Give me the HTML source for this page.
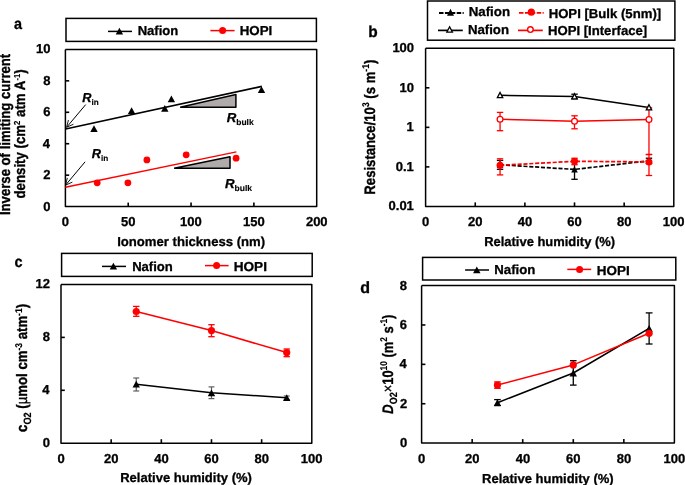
<!DOCTYPE html>
<html><head><meta charset="utf-8"><style>
html,body{margin:0;padding:0;background:#fff;overflow:hidden;}
svg{display:block;will-change:transform;}
text{stroke:#000;stroke-width:0.3px;font-family:"Liberation Sans",sans-serif;white-space:pre;text-rendering:geometricPrecision;}
</style></head><body>
<svg width="685" height="485" viewBox="0 0 685 485">
<rect width="685" height="485" fill="#fff"/>
<g transform="translate(14.07,28.8) scale(0.9226,1)"><text x="0" y="0" style="font-size:15.6px;font-weight:bold;font-style:normal;stroke-width:0.3px" fill="#000">a</text></g>
<rect x="66" y="18.4" width="250.4" height="23" fill="none" stroke="#000" stroke-width="1.5"/>
<line x1="108" y1="31.4" x2="132" y2="31.4" stroke="#000" stroke-width="1.5" />
<polygon points="119.4,27.8 123.1,34.6 115.7,34.6" fill="#000"/>
<g transform="translate(137.65,34.8) scale(1.0050,1)"><text x="0" y="0" style="font-size:13px;font-weight:bold;font-style:normal;stroke-width:0.3px" fill="#000">Nafion</text></g>
<line x1="210.4" y1="30.6" x2="234.6" y2="30.6" stroke="#ff0000" stroke-width="1.5" />
<circle cx="222.6" cy="30.6" r="3.5" fill="#ff0000"/>
<g transform="translate(239.73,35.3) scale(1.0256,1)"><text x="0" y="0" style="font-size:13px;font-weight:bold;font-style:normal;stroke-width:0.3px" fill="#000">HOPI</text></g>
<polyline points="65.4,49.4 65.4,206.6 316.7,206.6 316.7,49.4 65.4,49.4" stroke="#000" stroke-width="1.5" fill="none" stroke-linejoin="round" />
<line x1="65.4" y1="175.16" x2="69.2" y2="175.16" stroke="#000" stroke-width="1.6" />
<line x1="65.4" y1="143.72" x2="69.2" y2="143.72" stroke="#000" stroke-width="1.6" />
<line x1="65.4" y1="112.28" x2="69.2" y2="112.28" stroke="#000" stroke-width="1.6" />
<line x1="65.4" y1="80.84" x2="69.2" y2="80.84" stroke="#000" stroke-width="1.6" />
<g transform="translate(43.3,210.5) scale(1.0000,1)"><text x="0" y="0" style="font-size:13px;font-weight:bold;font-style:normal;stroke-width:0.3px" fill="#000">0</text></g>
<g transform="translate(43.3,179.06) scale(1.0000,1)"><text x="0" y="0" style="font-size:13px;font-weight:bold;font-style:normal;stroke-width:0.3px" fill="#000">2</text></g>
<g transform="translate(42.85,147.62) scale(1.0000,1)"><text x="0" y="0" style="font-size:13px;font-weight:bold;font-style:normal;stroke-width:0.3px" fill="#000">4</text></g>
<g transform="translate(43.24,116.18) scale(1.0000,1)"><text x="0" y="0" style="font-size:13px;font-weight:bold;font-style:normal;stroke-width:0.3px" fill="#000">6</text></g>
<g transform="translate(43.17,84.74) scale(1.0000,1)"><text x="0" y="0" style="font-size:13px;font-weight:bold;font-style:normal;stroke-width:0.3px" fill="#000">8</text></g>
<g transform="translate(36.09,53.3) scale(1.0000,1)"><text x="0" y="0" style="font-size:13px;font-weight:bold;font-style:normal;stroke-width:0.3px" fill="#000">10</text></g>
<line x1="128.22" y1="206.6" x2="128.22" y2="202.6" stroke="#000" stroke-width="1.6" />
<line x1="191.05" y1="206.6" x2="191.05" y2="202.6" stroke="#000" stroke-width="1.6" />
<line x1="253.88" y1="206.6" x2="253.88" y2="202.6" stroke="#000" stroke-width="1.6" />
<g transform="translate(61.79,225.8) scale(1.0000,1)"><text x="0" y="0" style="font-size:13px;font-weight:bold;font-style:normal;stroke-width:0.3px" fill="#000">0</text></g>
<g transform="translate(121.07,225.8) scale(1.0000,1)"><text x="0" y="0" style="font-size:13px;font-weight:bold;font-style:normal;stroke-width:0.3px" fill="#000">50</text></g>
<g transform="translate(180.1,225.8) scale(1.0000,1)"><text x="0" y="0" style="font-size:13px;font-weight:bold;font-style:normal;stroke-width:0.3px" fill="#000">100</text></g>
<g transform="translate(242.92,225.8) scale(1.0000,1)"><text x="0" y="0" style="font-size:13px;font-weight:bold;font-style:normal;stroke-width:0.3px" fill="#000">150</text></g>
<g transform="translate(305.91,225.8) scale(1.0000,1)"><text x="0" y="0" style="font-size:13px;font-weight:bold;font-style:normal;stroke-width:0.3px" fill="#000">200</text></g>
<g transform="translate(117.15,245.6) scale(1.0086,1)"><text x="0" y="0" style="font-size:13px;font-weight:bold;font-style:normal;stroke-width:0.3px" fill="#000">Ionomer thickness (nm)</text></g>
<g transform="translate(9.8,214.2) rotate(-90) scale(1.0505,1.2) translate(-0.81,0)"><text x="0" y="0" style="font-size:12.5px;font-weight:bold;font-style:normal;stroke-width:0.3px" fill="#000">Inverse of limiting current</text></g>
<g transform="translate(24.6,198) rotate(-90) scale(1.0601,1.2) translate(-0.5,0)"><text x="0" y="0" style="font-size:12.5px;font-weight:bold;font-style:normal;stroke-width:0.3px" fill="#000">density (cm</text><text x="69.47" y="-3.8" style="font-size:7.25px;font-weight:bold;font-style:normal;stroke-width:0.1px" fill="#000">2</text><text x="73.5" y="0" style="font-size:12.5px;font-weight:bold;font-style:normal;stroke-width:0.3px" fill="#000"> atm A</text><text x="111.24" y="-3.8" style="font-size:7.25px;font-weight:bold;font-style:normal;stroke-width:0.1px" fill="#000">-1</text><text x="117.68" y="0" style="font-size:12.5px;font-weight:bold;font-style:normal;stroke-width:0.3px" fill="#000">)</text></g>
<line x1="65.6" y1="129" x2="261.8" y2="86.4" stroke="#000" stroke-width="1.6" />
<polygon points="94,125.3 97.7,132.1 90.3,132.1" fill="#000"/>
<polygon points="131.6,107.3 135.3,114.1 127.9,114.1" fill="#000"/>
<polygon points="164.8,105 168.5,111.8 161.1,111.8" fill="#000"/>
<polygon points="171.4,95.4 175.1,102.2 167.7,102.2" fill="#000"/>
<polygon points="261.5,86.3 265.2,93.1 257.8,93.1" fill="#000"/>
<polyline points="180.1,107.3 235.9,107.3 235.9,94.6 180.1,107.3" stroke="#000" stroke-width="1.5" fill="#b0abaa" stroke-linejoin="round" />
<line x1="65.4" y1="187.2" x2="236.4" y2="151.9" stroke="#ff0000" stroke-width="1.45" />
<circle cx="97.2" cy="182.8" r="3.4" fill="#ff0000"/>
<circle cx="127.9" cy="182.8" r="3.4" fill="#ff0000"/>
<circle cx="146.9" cy="159.9" r="3.4" fill="#ff0000"/>
<circle cx="186.2" cy="154.8" r="3.4" fill="#ff0000"/>
<circle cx="236.1" cy="158.2" r="3.4" fill="#ff0000"/>
<polyline points="174.1,168.2 230,168.2 230,156.7 174.1,168.2" stroke="#000" stroke-width="1.5" fill="#b0abaa" stroke-linejoin="round" />
<line x1="85.7" y1="104.6" x2="66.6" y2="127.3" stroke="#000" stroke-width="1.0" />
<line x1="66.6" y1="127.3" x2="73.44" y2="124.23" stroke="#000" stroke-width="0.9" />
<line x1="66.6" y1="127.3" x2="68.45" y2="120.03" stroke="#000" stroke-width="0.9" />
<line x1="85.1" y1="161.8" x2="65.5" y2="185.2" stroke="#000" stroke-width="1.0" />
<line x1="65.5" y1="185.2" x2="72.34" y2="182.12" stroke="#000" stroke-width="0.9" />
<line x1="65.5" y1="185.2" x2="67.34" y2="177.93" stroke="#000" stroke-width="0.9" />
<g transform="translate(82.35,101.5) scale(0.9792,1)"><text x="0" y="0" style="font-size:13px;font-weight:bold;font-style:italic;stroke-width:0.3px" fill="#000">R</text><text x="9.39" y="3" style="font-size:8.32px;font-weight:bold;font-style:normal;stroke-width:0.13px" fill="#000">in</text></g>
<g transform="translate(91.84,158) scale(0.9854,1)"><text x="0" y="0" style="font-size:13px;font-weight:bold;font-style:italic;stroke-width:0.3px" fill="#000">R</text><text x="9.39" y="3" style="font-size:8.32px;font-weight:bold;font-style:normal;stroke-width:0.13px" fill="#000">in</text></g>
<g transform="translate(226.74,121.8) scale(1.0181,1)"><text x="0" y="0" style="font-size:13px;font-weight:bold;font-style:italic;stroke-width:0.3px" fill="#000">R</text><text x="9.39" y="3" style="font-size:8.32px;font-weight:bold;font-style:normal;stroke-width:0.13px" fill="#000">bulk</text></g>
<g transform="translate(224.93,187.7) scale(1.0219,1)"><text x="0" y="0" style="font-size:13px;font-weight:bold;font-style:italic;stroke-width:0.3px" fill="#000">R</text><text x="9.39" y="3" style="font-size:8.32px;font-weight:bold;font-style:normal;stroke-width:0.13px" fill="#000">bulk</text></g>
<g transform="translate(368.2,36.5) scale(0.9776,1)"><text x="0" y="0" style="font-size:15.8px;font-weight:bold;font-style:normal;stroke-width:0.3px" fill="#000">b</text></g>
<rect x="427.5" y="1" width="247.4" height="39.2" fill="none" stroke="#000" stroke-width="1.5"/>
<line x1="439" y1="13" x2="463.7" y2="13" stroke="#000" stroke-width="1.8" stroke-dasharray="4.5 1.4"/>
<polygon points="450.5,8.8 454,15.8 447,15.8" fill="#000"/>
<g transform="translate(468.64,16.4) scale(1.0231,1)"><text x="0" y="0" style="font-size:13px;font-weight:bold;font-style:normal;stroke-width:0.3px" fill="#000">Nafion</text></g>
<line x1="519" y1="12.85" x2="543.7" y2="12.85" stroke="#ff0000" stroke-width="1.8" stroke-dasharray="4.5 1.4"/>
<circle cx="531.3" cy="12.2" r="3.6" fill="#ff0000"/>
<g transform="translate(548.65,17.5) scale(1.0114,1)"><text x="0" y="0" style="font-size:13px;font-weight:bold;font-style:normal;stroke-width:0.3px" fill="#000">HOPI [Bulk (5nm)]</text></g>
<line x1="438" y1="30.4" x2="462.8" y2="30.4" stroke="#000" stroke-width="1.7" />
<polygon points="449.6,26.8 452.4,32.2 446.8,32.2" fill="#fff" stroke="#000" stroke-width="1.3" stroke-linejoin="miter"/>
<g transform="translate(467.94,33.8) scale(1.0153,1)"><text x="0" y="0" style="font-size:13px;font-weight:bold;font-style:normal;stroke-width:0.3px" fill="#000">Nafion</text></g>
<line x1="518" y1="30.4" x2="542.8" y2="30.4" stroke="#ff0000" stroke-width="1.7" />
<circle cx="530.4" cy="29.6" r="2.8" fill="#fff" stroke="#ff0000" stroke-width="1.4"/>
<g transform="translate(547.95,35) scale(1.0098,1)"><text x="0" y="0" style="font-size:13px;font-weight:bold;font-style:normal;stroke-width:0.3px" fill="#000">HOPI [Interface]</text></g>
<polyline points="425.6,48.3 425.6,206.4 673.8,206.4 673.8,48.3 425.6,48.3" stroke="#000" stroke-width="1.5" fill="none" stroke-linejoin="round" />
<g transform="translate(388.54,210.3) scale(1.0000,1)"><text x="0" y="0" style="font-size:13px;font-weight:bold;font-style:normal;stroke-width:0.3px" fill="#000">0.01</text></g>
<line x1="425.6" y1="166.88" x2="429.4" y2="166.88" stroke="#000" stroke-width="1.6" />
<g transform="translate(395.75,170.78) scale(1.0000,1)"><text x="0" y="0" style="font-size:13px;font-weight:bold;font-style:normal;stroke-width:0.3px" fill="#000">0.1</text></g>
<line x1="425.6" y1="127.35" x2="429.4" y2="127.35" stroke="#000" stroke-width="1.6" />
<g transform="translate(406.61,131.25) scale(1.0000,1)"><text x="0" y="0" style="font-size:13px;font-weight:bold;font-style:normal;stroke-width:0.3px" fill="#000">1</text></g>
<line x1="425.6" y1="87.82" x2="429.4" y2="87.82" stroke="#000" stroke-width="1.6" />
<g transform="translate(399.59,91.72) scale(1.0000,1)"><text x="0" y="0" style="font-size:13px;font-weight:bold;font-style:normal;stroke-width:0.3px" fill="#000">10</text></g>
<g transform="translate(392.38,52.2) scale(1.0000,1)"><text x="0" y="0" style="font-size:13px;font-weight:bold;font-style:normal;stroke-width:0.3px" fill="#000">100</text></g>
<line x1="475.24" y1="206.4" x2="475.24" y2="202.4" stroke="#000" stroke-width="1.6" />
<line x1="524.88" y1="206.4" x2="524.88" y2="202.4" stroke="#000" stroke-width="1.6" />
<line x1="574.52" y1="206.4" x2="574.52" y2="202.4" stroke="#000" stroke-width="1.6" />
<line x1="624.16" y1="206.4" x2="624.16" y2="202.4" stroke="#000" stroke-width="1.6" />
<g transform="translate(421.99,225.8) scale(1.0000,1)"><text x="0" y="0" style="font-size:13px;font-weight:bold;font-style:normal;stroke-width:0.3px" fill="#000">0</text></g>
<g transform="translate(468.06,225.8) scale(1.0000,1)"><text x="0" y="0" style="font-size:13px;font-weight:bold;font-style:normal;stroke-width:0.3px" fill="#000">20</text></g>
<g transform="translate(517.83,225.8) scale(1.0000,1)"><text x="0" y="0" style="font-size:13px;font-weight:bold;font-style:normal;stroke-width:0.3px" fill="#000">40</text></g>
<g transform="translate(567.34,225.8) scale(1.0000,1)"><text x="0" y="0" style="font-size:13px;font-weight:bold;font-style:normal;stroke-width:0.3px" fill="#000">60</text></g>
<g transform="translate(617.01,225.8) scale(1.0000,1)"><text x="0" y="0" style="font-size:13px;font-weight:bold;font-style:normal;stroke-width:0.3px" fill="#000">80</text></g>
<g transform="translate(662.85,225.8) scale(1.0000,1)"><text x="0" y="0" style="font-size:13px;font-weight:bold;font-style:normal;stroke-width:0.3px" fill="#000">100</text></g>
<g transform="translate(484.16,245.6) scale(0.9962,1)"><text x="0" y="0" style="font-size:13px;font-weight:bold;font-style:normal;stroke-width:0.3px" fill="#000">Relative humidity (%)</text></g>
<g transform="translate(374.6,193.8) rotate(-90) scale(1.0424,1.2) translate(-0.82,0)"><text x="0" y="0" style="font-size:12.6px;font-weight:bold;font-style:normal;stroke-width:0.3px" fill="#000">Resistance/10</text><text x="84.06" y="-4.5" style="font-size:8.19px;font-weight:bold;font-style:normal;stroke-width:0.13px" fill="#000">3</text><text x="88.61" y="0" style="font-size:12.6px;font-weight:bold;font-style:normal;stroke-width:0.3px" fill="#000"> (s m</text><text x="118.02" y="-4.5" style="font-size:8.19px;font-weight:bold;font-style:normal;stroke-width:0.13px" fill="#000">-1</text><text x="125.3" y="0" style="font-size:12.6px;font-weight:bold;font-style:normal;stroke-width:0.3px" fill="#000">)</text></g>
<polyline points="500.06,164.8 574.52,169.4 648.98,160.8" stroke="#000" stroke-width="1.7" fill="none" stroke-linejoin="round" stroke-dasharray="4.1 1.75"/>
<line x1="500.06" y1="160.4" x2="500.06" y2="169.3" stroke="#000" stroke-width="1.3" />
<line x1="496.86" y1="160.4" x2="503.26" y2="160.4" stroke="#000" stroke-width="1.3" />
<line x1="496.86" y1="169.3" x2="503.26" y2="169.3" stroke="#000" stroke-width="1.3" />
<line x1="574.52" y1="160.5" x2="574.52" y2="179.3" stroke="#000" stroke-width="1.3" />
<line x1="571.32" y1="160.5" x2="577.72" y2="160.5" stroke="#000" stroke-width="1.3" />
<line x1="571.32" y1="179.3" x2="577.72" y2="179.3" stroke="#000" stroke-width="1.3" />
<line x1="648.98" y1="158.2" x2="648.98" y2="163.5" stroke="#000" stroke-width="1.3" />
<line x1="645.78" y1="158.2" x2="652.18" y2="158.2" stroke="#000" stroke-width="1.3" />
<line x1="645.78" y1="163.5" x2="652.18" y2="163.5" stroke="#000" stroke-width="1.3" />
<polygon points="500.06,161.7 503.36,167.9 496.76,167.9" fill="#000"/>
<polygon points="574.52,166.3 577.82,172.5 571.22,172.5" fill="#000"/>
<polygon points="648.98,157.7 652.28,163.9 645.68,163.9" fill="#000"/>
<polyline points="500.06,165.3 574.52,161.3 648.98,161.9" stroke="#ff0000" stroke-width="1.7" fill="none" stroke-linejoin="round" stroke-dasharray="4.1 1.75"/>
<line x1="500.06" y1="158.8" x2="500.06" y2="174.9" stroke="#ff0000" stroke-width="1.3" />
<line x1="496.86" y1="158.8" x2="503.26" y2="158.8" stroke="#ff0000" stroke-width="1.3" />
<line x1="496.86" y1="174.9" x2="503.26" y2="174.9" stroke="#ff0000" stroke-width="1.3" />
<line x1="574.52" y1="158.3" x2="574.52" y2="164.7" stroke="#ff0000" stroke-width="1.3" />
<line x1="571.32" y1="158.3" x2="577.72" y2="158.3" stroke="#ff0000" stroke-width="1.3" />
<line x1="571.32" y1="164.7" x2="577.72" y2="164.7" stroke="#ff0000" stroke-width="1.3" />
<line x1="648.98" y1="154.5" x2="648.98" y2="175.5" stroke="#ff0000" stroke-width="1.3" />
<line x1="645.78" y1="154.5" x2="652.18" y2="154.5" stroke="#ff0000" stroke-width="1.3" />
<line x1="645.78" y1="175.5" x2="652.18" y2="175.5" stroke="#ff0000" stroke-width="1.3" />
<circle cx="500.06" cy="165.3" r="3.5" fill="#ff0000"/>
<circle cx="574.52" cy="161.3" r="3.5" fill="#ff0000"/>
<circle cx="648.98" cy="161.9" r="3.5" fill="#ff0000"/>
<line x1="574.52" y1="94.2" x2="574.52" y2="98.8" stroke="#000" stroke-width="1.3" />
<line x1="571.32" y1="94.2" x2="577.72" y2="94.2" stroke="#000" stroke-width="1.3" />
<line x1="571.32" y1="98.8" x2="577.72" y2="98.8" stroke="#000" stroke-width="1.3" />
<polyline points="500.06,95.3 574.52,96.5 648.98,107.5" stroke="#000" stroke-width="1.5" fill="none" stroke-linejoin="round" />
<line x1="500.06" y1="112.4" x2="500.06" y2="130.7" stroke="#ff0000" stroke-width="1.3" />
<line x1="496.86" y1="112.4" x2="503.26" y2="112.4" stroke="#ff0000" stroke-width="1.3" />
<line x1="496.86" y1="130.7" x2="503.26" y2="130.7" stroke="#ff0000" stroke-width="1.3" />
<line x1="574.52" y1="115.8" x2="574.52" y2="128.8" stroke="#ff0000" stroke-width="1.3" />
<line x1="571.32" y1="115.8" x2="577.72" y2="115.8" stroke="#ff0000" stroke-width="1.3" />
<line x1="571.32" y1="128.8" x2="577.72" y2="128.8" stroke="#ff0000" stroke-width="1.3" />
<line x1="648.98" y1="107.8" x2="648.98" y2="154.5" stroke="#ff0000" stroke-width="1.3" />
<line x1="645.78" y1="107.8" x2="652.18" y2="107.8" stroke="#ff0000" stroke-width="1.3" />
<line x1="645.78" y1="154.5" x2="652.18" y2="154.5" stroke="#ff0000" stroke-width="1.3" />
<polyline points="500.06,119.3 574.52,121.2 648.98,119.6" stroke="#ff0000" stroke-width="1.5" fill="none" stroke-linejoin="round" />
<circle cx="500.06" cy="119.3" r="2.9" fill="#fff" stroke="#ff0000" stroke-width="1.3"/>
<circle cx="574.52" cy="121.2" r="2.9" fill="#fff" stroke="#ff0000" stroke-width="1.3"/>
<circle cx="648.98" cy="119.6" r="2.9" fill="#fff" stroke="#ff0000" stroke-width="1.3"/>
<polygon points="500.06,92.5 502.76,97.7 497.36,97.7" fill="#fff" stroke="#000" stroke-width="1.3" stroke-linejoin="miter"/>
<polygon points="574.52,93.7 577.22,98.9 571.82,98.9" fill="#fff" stroke="#000" stroke-width="1.3" stroke-linejoin="miter"/>
<polygon points="648.98,104.7 651.68,109.9 646.28,109.9" fill="#fff" stroke="#000" stroke-width="1.3" stroke-linejoin="miter"/>
<g transform="translate(14.42,267) scale(0.9252,1)"><text x="0" y="0" style="font-size:15.6px;font-weight:bold;font-style:normal;stroke-width:0.3px" fill="#000">c</text></g>
<rect x="61.6" y="253.4" width="250.6" height="23" fill="none" stroke="#000" stroke-width="1.5"/>
<line x1="102" y1="266.4" x2="126" y2="266.4" stroke="#000" stroke-width="1.5" />
<polygon points="113.4,262.8 117.1,269.6 109.7,269.6" fill="#000"/>
<g transform="translate(132.15,270.5) scale(1.0050,1)"><text x="0" y="0" style="font-size:13px;font-weight:bold;font-style:normal;stroke-width:0.3px" fill="#000">Nafion</text></g>
<line x1="205" y1="265.6" x2="228.6" y2="265.6" stroke="#ff0000" stroke-width="1.5" />
<circle cx="216.6" cy="265.6" r="3.5" fill="#ff0000"/>
<g transform="translate(233.72,271.1) scale(1.0456,1)"><text x="0" y="0" style="font-size:13px;font-weight:bold;font-style:normal;stroke-width:0.3px" fill="#000">HOPI</text></g>
<polyline points="61,284.5 61,443.2 311.8,443.2 311.8,284.5 61,284.5" stroke="#000" stroke-width="1.5" fill="none" stroke-linejoin="round" />
<line x1="61" y1="390.3" x2="64.8" y2="390.3" stroke="#000" stroke-width="1.6" />
<line x1="61" y1="337.4" x2="64.8" y2="337.4" stroke="#000" stroke-width="1.6" />
<g transform="translate(42.8,447.1) scale(1.0000,1)"><text x="0" y="0" style="font-size:13px;font-weight:bold;font-style:normal;stroke-width:0.3px" fill="#000">0</text></g>
<g transform="translate(42.35,394.2) scale(1.0000,1)"><text x="0" y="0" style="font-size:13px;font-weight:bold;font-style:normal;stroke-width:0.3px" fill="#000">4</text></g>
<g transform="translate(42.67,341.3) scale(1.0000,1)"><text x="0" y="0" style="font-size:13px;font-weight:bold;font-style:normal;stroke-width:0.3px" fill="#000">8</text></g>
<g transform="translate(35.59,288.4) scale(1.0000,1)"><text x="0" y="0" style="font-size:13px;font-weight:bold;font-style:normal;stroke-width:0.3px" fill="#000">12</text></g>
<line x1="111.16" y1="443.2" x2="111.16" y2="439.2" stroke="#000" stroke-width="1.6" />
<line x1="161.32" y1="443.2" x2="161.32" y2="439.2" stroke="#000" stroke-width="1.6" />
<line x1="211.48" y1="443.2" x2="211.48" y2="439.2" stroke="#000" stroke-width="1.6" />
<line x1="261.64" y1="443.2" x2="261.64" y2="439.2" stroke="#000" stroke-width="1.6" />
<g transform="translate(57.39,462.6) scale(1.0000,1)"><text x="0" y="0" style="font-size:13px;font-weight:bold;font-style:normal;stroke-width:0.3px" fill="#000">0</text></g>
<g transform="translate(103.98,462.6) scale(1.0000,1)"><text x="0" y="0" style="font-size:13px;font-weight:bold;font-style:normal;stroke-width:0.3px" fill="#000">20</text></g>
<g transform="translate(154.27,462.6) scale(1.0000,1)"><text x="0" y="0" style="font-size:13px;font-weight:bold;font-style:normal;stroke-width:0.3px" fill="#000">40</text></g>
<g transform="translate(204.3,462.6) scale(1.0000,1)"><text x="0" y="0" style="font-size:13px;font-weight:bold;font-style:normal;stroke-width:0.3px" fill="#000">60</text></g>
<g transform="translate(254.49,462.6) scale(1.0000,1)"><text x="0" y="0" style="font-size:13px;font-weight:bold;font-style:normal;stroke-width:0.3px" fill="#000">80</text></g>
<g transform="translate(300.85,462.6) scale(1.0000,1)"><text x="0" y="0" style="font-size:13px;font-weight:bold;font-style:normal;stroke-width:0.3px" fill="#000">100</text></g>
<g transform="translate(120.15,482.4) scale(1.0023,1)"><text x="0" y="0" style="font-size:13px;font-weight:bold;font-style:normal;stroke-width:0.3px" fill="#000">Relative humidity (%)</text></g>
<g transform="translate(27,431.4) rotate(-90) scale(1.0453,1.2) translate(-0.5,0)"><text x="0" y="0" style="font-size:12.6px;font-weight:bold;font-style:normal;stroke-width:0.3px" fill="#000">c</text><text x="7.01" y="3.5" style="font-size:8.82px;font-weight:bold;font-style:normal;stroke-width:0.15px" fill="#000">O2</text><text x="18.77" y="0" style="font-size:12.6px;font-weight:bold;font-style:normal;stroke-width:0.3px" fill="#000"> (</text><text x="26.47" y="0" style="font-size:12.6px;font-weight:normal;font-style:normal;stroke-width:0.3px" fill="#000">µ</text><text x="33.73" y="0" style="font-size:12.6px;font-weight:bold;font-style:normal;stroke-width:0.3px" fill="#000">mol cm</text><text x="77.84" y="-4.5" style="font-size:8.19px;font-weight:bold;font-style:normal;stroke-width:0.13px" fill="#000">-3</text><text x="85.12" y="0" style="font-size:12.6px;font-weight:bold;font-style:normal;stroke-width:0.3px" fill="#000"> atm</text><text x="111.03" y="-4.5" style="font-size:8.19px;font-weight:bold;font-style:normal;stroke-width:0.13px" fill="#000">-1</text><text x="118.32" y="0" style="font-size:12.6px;font-weight:bold;font-style:normal;stroke-width:0.3px" fill="#000">)</text></g>
<polyline points="136.24,384.2 211.48,392.8 286.72,397.7" stroke="#000" stroke-width="1.55" fill="none" stroke-linejoin="round" />
<line x1="136.24" y1="378" x2="136.24" y2="391" stroke="#5f5f5f" stroke-width="1.2" />
<line x1="133.29" y1="378" x2="139.19" y2="378" stroke="#5f5f5f" stroke-width="1.2" />
<line x1="133.29" y1="391" x2="139.19" y2="391" stroke="#5f5f5f" stroke-width="1.2" />
<line x1="211.48" y1="386.9" x2="211.48" y2="398.6" stroke="#5f5f5f" stroke-width="1.2" />
<line x1="208.53" y1="386.9" x2="214.43" y2="386.9" stroke="#5f5f5f" stroke-width="1.2" />
<line x1="208.53" y1="398.6" x2="214.43" y2="398.6" stroke="#5f5f5f" stroke-width="1.2" />
<line x1="286.72" y1="396" x2="286.72" y2="399.5" stroke="#5f5f5f" stroke-width="1.2" />
<line x1="283.77" y1="396" x2="289.67" y2="396" stroke="#5f5f5f" stroke-width="1.2" />
<line x1="283.77" y1="399.5" x2="289.67" y2="399.5" stroke="#5f5f5f" stroke-width="1.2" />
<polygon points="136.24,380.8 139.94,387.6 132.54,387.6" fill="#000"/>
<polygon points="211.48,389.4 215.18,396.2 207.78,396.2" fill="#000"/>
<polygon points="286.72,394.3 290.42,401.1 283.02,401.1" fill="#000"/>
<polyline points="136.24,311.5 211.48,330.6 286.72,352.6" stroke="#ff0000" stroke-width="1.55" fill="none" stroke-linejoin="round" />
<line x1="136.24" y1="306.4" x2="136.24" y2="316.3" stroke="#ff0000" stroke-width="1.3" />
<line x1="133.04" y1="306.4" x2="139.44" y2="306.4" stroke="#ff0000" stroke-width="1.3" />
<line x1="133.04" y1="316.3" x2="139.44" y2="316.3" stroke="#ff0000" stroke-width="1.3" />
<line x1="211.48" y1="324.7" x2="211.48" y2="336.7" stroke="#ff0000" stroke-width="1.3" />
<line x1="208.28" y1="324.7" x2="214.68" y2="324.7" stroke="#ff0000" stroke-width="1.3" />
<line x1="208.28" y1="336.7" x2="214.68" y2="336.7" stroke="#ff0000" stroke-width="1.3" />
<line x1="286.72" y1="349" x2="286.72" y2="356.7" stroke="#ff0000" stroke-width="1.3" />
<line x1="283.52" y1="349" x2="289.92" y2="349" stroke="#ff0000" stroke-width="1.3" />
<line x1="283.52" y1="356.7" x2="289.92" y2="356.7" stroke="#ff0000" stroke-width="1.3" />
<circle cx="136.24" cy="311.5" r="3.6" fill="#ff0000"/>
<circle cx="211.48" cy="330.6" r="3.6" fill="#ff0000"/>
<circle cx="286.72" cy="352.6" r="3.6" fill="#ff0000"/>
<g transform="translate(360.26,293.3) scale(0.9901,1)"><text x="0" y="0" style="font-size:16.2px;font-weight:bold;font-style:normal;stroke-width:0.3px" fill="#000">d</text></g>
<rect x="422.6" y="257.4" width="253.2" height="22.6" fill="none" stroke="#000" stroke-width="1.5"/>
<line x1="465.1" y1="270" x2="489" y2="270" stroke="#000" stroke-width="1.5" />
<polygon points="476.8,266.4 480.5,273.2 473.1,273.2" fill="#000"/>
<g transform="translate(494.34,274) scale(1.0153,1)"><text x="0" y="0" style="font-size:13px;font-weight:bold;font-style:normal;stroke-width:0.3px" fill="#000">Nafion</text></g>
<line x1="567.3" y1="269.4" x2="591.2" y2="269.4" stroke="#ff0000" stroke-width="1.5" />
<circle cx="579.6" cy="269.4" r="3.5" fill="#ff0000"/>
<g transform="translate(596.72,274.6) scale(1.0356,1)"><text x="0" y="0" style="font-size:13px;font-weight:bold;font-style:normal;stroke-width:0.3px" fill="#000">HOPI</text></g>
<polyline points="421.6,285.6 421.6,443.1 674.4,443.1 674.4,285.6 421.6,285.6" stroke="#000" stroke-width="1.5" fill="none" stroke-linejoin="round" />
<line x1="421.6" y1="403.73" x2="425.4" y2="403.73" stroke="#000" stroke-width="1.6" />
<line x1="421.6" y1="364.35" x2="425.4" y2="364.35" stroke="#000" stroke-width="1.6" />
<line x1="421.6" y1="324.98" x2="425.4" y2="324.98" stroke="#000" stroke-width="1.6" />
<g transform="translate(399.91,447) scale(1.0000,1)"><text x="0" y="0" style="font-size:13px;font-weight:bold;font-style:normal;stroke-width:0.3px" fill="#000">0</text></g>
<g transform="translate(399.91,407.62) scale(1.0000,1)"><text x="0" y="0" style="font-size:13px;font-weight:bold;font-style:normal;stroke-width:0.3px" fill="#000">2</text></g>
<g transform="translate(399.45,368.25) scale(1.0000,1)"><text x="0" y="0" style="font-size:13px;font-weight:bold;font-style:normal;stroke-width:0.3px" fill="#000">4</text></g>
<g transform="translate(399.84,328.88) scale(1.0000,1)"><text x="0" y="0" style="font-size:13px;font-weight:bold;font-style:normal;stroke-width:0.3px" fill="#000">6</text></g>
<g transform="translate(399.78,289.5) scale(1.0000,1)"><text x="0" y="0" style="font-size:13px;font-weight:bold;font-style:normal;stroke-width:0.3px" fill="#000">8</text></g>
<line x1="472.16" y1="443.1" x2="472.16" y2="439.1" stroke="#000" stroke-width="1.6" />
<line x1="522.72" y1="443.1" x2="522.72" y2="439.1" stroke="#000" stroke-width="1.6" />
<line x1="573.28" y1="443.1" x2="573.28" y2="439.1" stroke="#000" stroke-width="1.6" />
<line x1="623.84" y1="443.1" x2="623.84" y2="439.1" stroke="#000" stroke-width="1.6" />
<g transform="translate(417.99,463.2) scale(1.0000,1)"><text x="0" y="0" style="font-size:13px;font-weight:bold;font-style:normal;stroke-width:0.3px" fill="#000">0</text></g>
<g transform="translate(464.98,463.2) scale(1.0000,1)"><text x="0" y="0" style="font-size:13px;font-weight:bold;font-style:normal;stroke-width:0.3px" fill="#000">20</text></g>
<g transform="translate(515.67,463.2) scale(1.0000,1)"><text x="0" y="0" style="font-size:13px;font-weight:bold;font-style:normal;stroke-width:0.3px" fill="#000">40</text></g>
<g transform="translate(566.1,463.2) scale(1.0000,1)"><text x="0" y="0" style="font-size:13px;font-weight:bold;font-style:normal;stroke-width:0.3px" fill="#000">60</text></g>
<g transform="translate(616.69,463.2) scale(1.0000,1)"><text x="0" y="0" style="font-size:13px;font-weight:bold;font-style:normal;stroke-width:0.3px" fill="#000">80</text></g>
<g transform="translate(663.45,463.2) scale(1.0000,1)"><text x="0" y="0" style="font-size:13px;font-weight:bold;font-style:normal;stroke-width:0.3px" fill="#000">100</text></g>
<g transform="translate(482.05,482.7) scale(1.0008,1)"><text x="0" y="0" style="font-size:13px;font-weight:bold;font-style:normal;stroke-width:0.3px" fill="#000">Relative humidity (%)</text></g>
<g transform="translate(392.6,413.4) rotate(-90) scale(1.0236,1.2) translate(-0.25,0)"><text x="0" y="0" style="font-size:12.6px;font-weight:bold;font-style:italic;stroke-width:0.3px" fill="#000">D</text><text x="9.1" y="3.5" style="font-size:8.82px;font-weight:bold;font-style:normal;stroke-width:0.15px" fill="#000">O2</text><text x="20.87" y="0" style="font-size:12.6px;font-weight:normal;font-style:normal;stroke-width:0.3px" fill="#000">×</text><text x="28.22" y="0" style="font-size:12.6px;font-weight:bold;font-style:normal;stroke-width:0.3px" fill="#000">10</text><text x="42.24" y="-4.5" style="font-size:8.19px;font-weight:bold;font-style:normal;stroke-width:0.13px" fill="#000">10</text><text x="51.35" y="0" style="font-size:12.6px;font-weight:bold;font-style:normal;stroke-width:0.3px" fill="#000"> (m</text><text x="70.25" y="-4.5" style="font-size:8.19px;font-weight:bold;font-style:normal;stroke-width:0.13px" fill="#000">2</text><text x="74.8" y="0" style="font-size:12.6px;font-weight:bold;font-style:normal;stroke-width:0.3px" fill="#000"> s</text><text x="85.31" y="-4.5" style="font-size:8.19px;font-weight:bold;font-style:normal;stroke-width:0.13px" fill="#000">-1</text><text x="92.6" y="0" style="font-size:12.6px;font-weight:bold;font-style:normal;stroke-width:0.3px" fill="#000">)</text></g>
<polyline points="497.44,402.7 573.28,373 649.12,328.4" stroke="#000" stroke-width="1.55" fill="none" stroke-linejoin="round" />
<line x1="497.44" y1="399.6" x2="497.44" y2="405.6" stroke="#000" stroke-width="1.3" />
<line x1="494.14" y1="399.6" x2="500.74" y2="399.6" stroke="#000" stroke-width="1.3" />
<line x1="494.14" y1="405.6" x2="500.74" y2="405.6" stroke="#000" stroke-width="1.3" />
<line x1="573.28" y1="360.7" x2="573.28" y2="385.1" stroke="#000" stroke-width="1.3" />
<line x1="569.98" y1="360.7" x2="576.58" y2="360.7" stroke="#000" stroke-width="1.3" />
<line x1="569.98" y1="385.1" x2="576.58" y2="385.1" stroke="#000" stroke-width="1.3" />
<line x1="649.12" y1="312.9" x2="649.12" y2="344" stroke="#000" stroke-width="1.3" />
<line x1="645.72" y1="312.9" x2="652.52" y2="312.9" stroke="#000" stroke-width="1.3" />
<line x1="645.72" y1="344" x2="652.52" y2="344" stroke="#000" stroke-width="1.3" />
<polygon points="497.44,399.3 501.14,406.1 493.74,406.1" fill="#000"/>
<polygon points="573.28,369.6 576.98,376.4 569.58,376.4" fill="#000"/>
<polygon points="649.12,325 652.82,331.8 645.42,331.8" fill="#000"/>
<polyline points="497.44,385.1 573.28,364.9 649.12,333.3" stroke="#ff0000" stroke-width="1.55" fill="none" stroke-linejoin="round" />
<line x1="497.44" y1="381.9" x2="497.44" y2="388.3" stroke="#ff0000" stroke-width="1.3" />
<line x1="494.14" y1="381.9" x2="500.74" y2="381.9" stroke="#ff0000" stroke-width="1.3" />
<line x1="494.14" y1="388.3" x2="500.74" y2="388.3" stroke="#ff0000" stroke-width="1.3" />
<circle cx="497.44" cy="385.1" r="3.6" fill="#ff0000"/>
<circle cx="573.28" cy="364.9" r="3.6" fill="#ff0000"/>
<circle cx="649.12" cy="333.3" r="3.6" fill="#ff0000"/>
</svg>
</body></html>
